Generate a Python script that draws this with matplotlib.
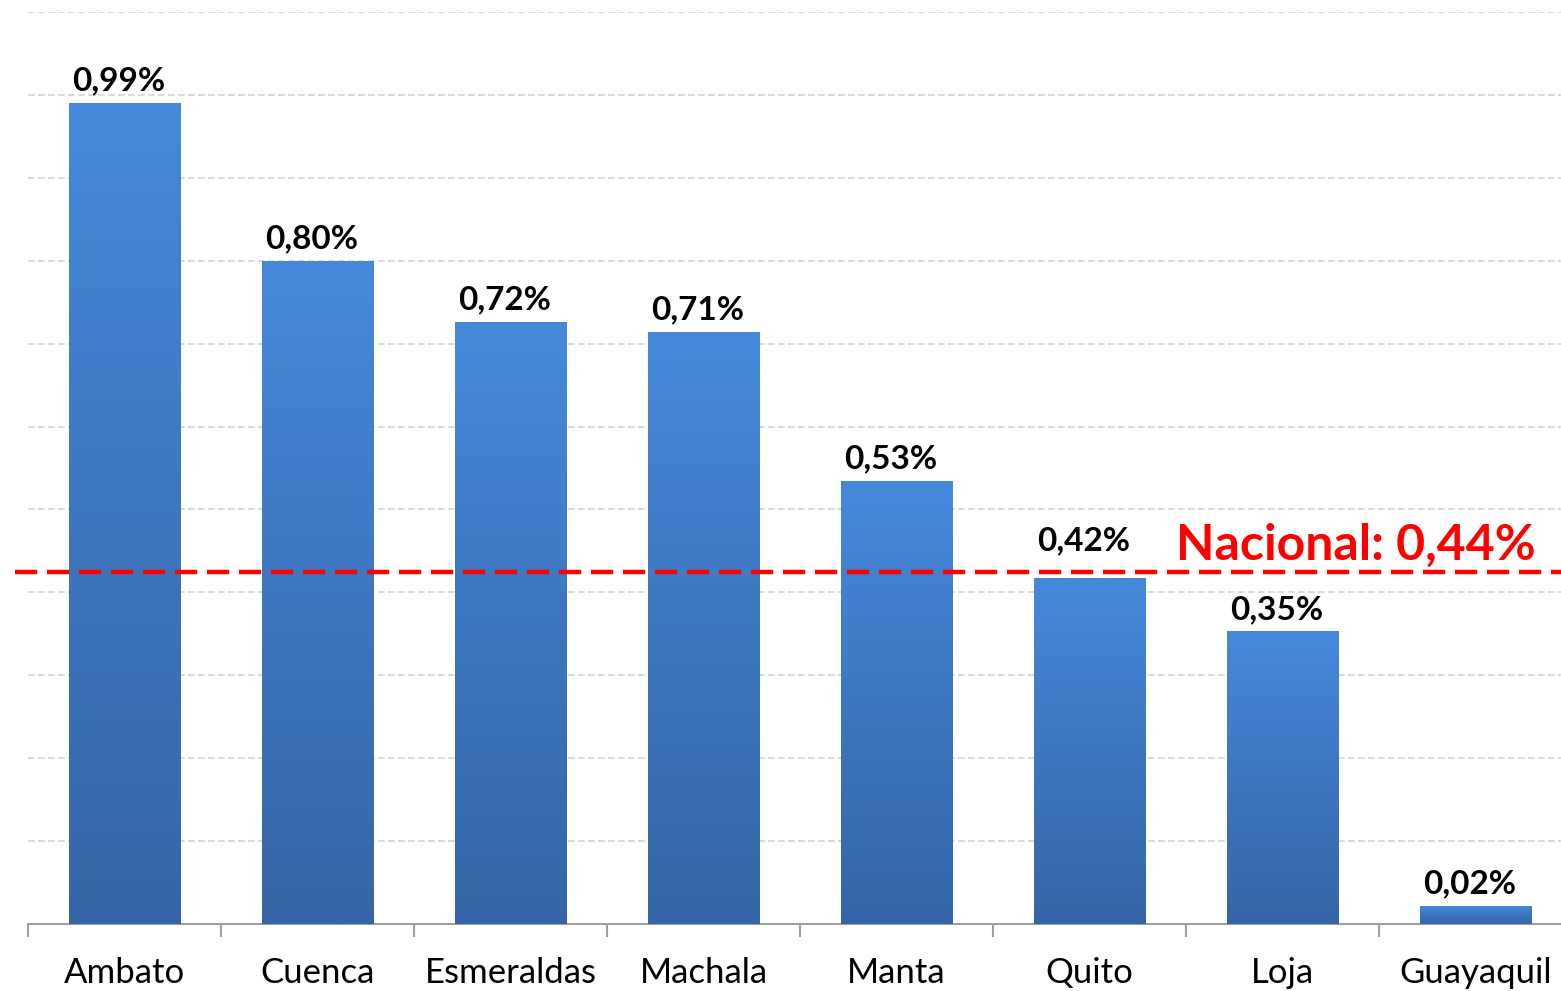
import matplotlib
matplotlib.use("Agg")
import matplotlib.pyplot as plt
import numpy as np
from matplotlib.colors import LinearSegmentedColormap

ciudades = ["Ambato", "Cuenca", "Esmeraldas", "Machala", "Manta", "Quito", "Loja", "Guayaquil"]
# bar heights (labels are the rounded values)
valores = [0.99, 0.80, 0.726, 0.714, 0.534, 0.417, 0.353, 0.022]
etiquetas = ["0,99%", "0,80%", "0,72%", "0,71%", "0,53%", "0,42%", "0,35%", "0,02%"]
nacional_texto = "Nacional: 0,44%"
nacional_linea = 0.425  # where the dashed line sits in the source picture

plt.rcParams["font.family"] = ["Lato", "DejaVu Sans"]

fig = plt.figure(figsize=(15.61, 9.91), dpi=100)
# the right end of the axis runs past the picture edge, as in the source
ax = fig.add_axes([0.018, 0.0676, 0.9891, 0.9203])

x = np.arange(len(ciudades))
ancho = 0.58
cmap = LinearSegmentedColormap.from_list("azul", ["#3565A6", "#4689DB"])
grad = np.linspace(0, 1, 256).reshape(-1, 1)

bars = ax.bar(x, valores, width=ancho, color="none", edgecolor="none", zorder=3)
for b in bars:
    x0, w, h = b.get_x(), b.get_width(), b.get_height()
    im = ax.imshow(grad, extent=[x0, x0 + w, 0, h], origin="lower", cmap=cmap,
                   aspect="auto", zorder=3)
    im.set_clip_path(b)

for xi, v, lab in zip(x, valores, etiquetas):
    y = v + 0.009
    # keep the label clear of the national line
    if v < nacional_linea and v + 0.05 > nacional_linea:
        y = nacional_linea + 0.02
    ax.text(xi - 0.03, y, lab, ha="center", va="bottom", fontsize=24,
            fontweight="bold", color="black", zorder=5)

ax.set_xlim(-0.5, len(ciudades) - 0.5)
ax.set_ylim(0, 1.1)
ax.set_yticks(np.arange(0.1, 1.11, 0.1))
ax.yaxis.grid(True, color="#D4D4D4", linestyle=(0, (4, 2)), linewidth=1.2, zorder=0)
ax.tick_params(axis="y", left=False, labelleft=False)

ax.set_xticks(x)
ax.set_xticklabels(ciudades, fontsize=25)
ax.tick_params(axis="x", which="major", length=0, pad=24)
ax.set_xticks(np.arange(-0.5, len(ciudades), 1), minor=True)
ax.tick_params(axis="x", which="minor", length=9, width=1.5, color="#A0A0A0")

for s in ["top", "right", "left"]:
    ax.spines[s].set_visible(False)
ax.spines["bottom"].set_color("#A0A0A0")
ax.spines["bottom"].set_linewidth(1.5)

ax.plot([-0.57, len(ciudades) - 0.5], [nacional_linea, nacional_linea], color="#FF0000",
        linestyle=(0, (5, 2.2)), linewidth=3.2, zorder=6, clip_on=False)
ax.text(len(ciudades) - 0.69, nacional_linea + 0.004, nacional_texto, ha="right",
        va="bottom", fontsize=36, fontweight="bold", color="#FF0000", zorder=6)

fig.savefig("out.png", dpi=100)
